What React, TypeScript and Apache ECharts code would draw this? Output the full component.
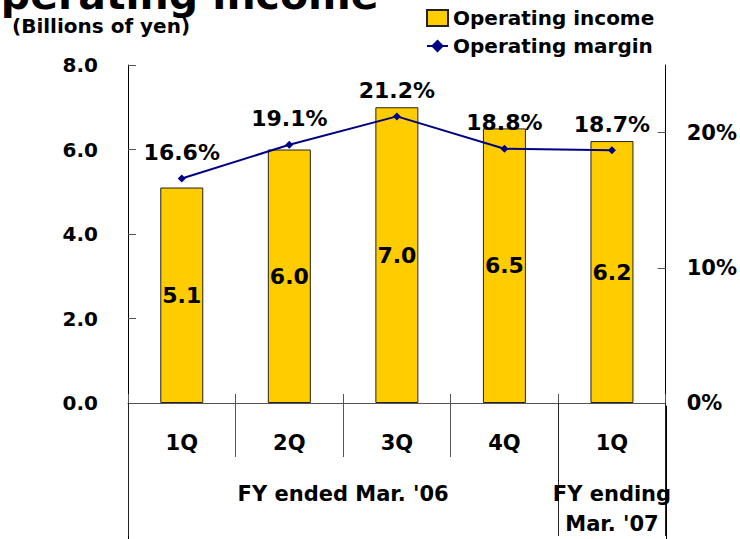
import React, { useEffect, useRef } from "react";
import * as echarts from "echarts";

const titleText = "Operating income";
const unitText = "(Billions of yen)";
const categories = ["1Q", "2Q", "3Q", "4Q", "1Q"];
const incomeValues = [5.1, 6.0, 7.0, 6.5, 6.2];
const marginValues = [16.6, 19.1, 21.2, 18.8, 18.7];
const leftTicks = [0, 2, 4, 6, 8];
const rightTicks = [0, 10, 20];
const fyLabels = ["FY ended Mar. '06", "FY ending\nMar. '07"];
const fyPositions = [2, 4.5];
const fyBoundaries = [0, 4, 5];
const quarterBoundaries = [1, 2, 3];

const FONT = "DejaVu Sans";
const SPAN_MAX = categories.length;

export default function App() {
  const ref = useRef<HTMLDivElement>(null);
  useEffect(() => {
    if (!ref.current) return;
    const chart = echarts.init(ref.current, null, { renderer: "svg" });
    const bold = { fontFamily: FONT, fontWeight: "bold" as const, color: "#000" };
    chart.setOption({
      animation: false,
      backgroundColor: "#fff",
      title: [
        {
          text: titleText,
          left: -34,
          top: -26,
          padding: 0,
          textStyle: { ...bold, fontSize: 41, lineHeight: 41 },
        },
        {
          text: unitText,
          left: 12,
          top: 16,
          padding: 0,
          textStyle: { ...bold, fontSize: 20, lineHeight: 20 },
        },
      ],
      legend: {
        orient: "vertical",
        left: 426,
        top: 8,
        padding: 0,
        itemWidth: 21,
        itemHeight: 16,
        itemGap: 8,
        textStyle: { ...bold, fontSize: 20, lineHeight: 20 },
        data: [
          { name: "Operating income", icon: "rect" },
          { name: "Operating margin" },
        ],
      },
      grid: [
        { left: 128, right: 74, top: 65, bottom: 133 },
        { left: 128, right: 74, top: 406, bottom: 0 },
      ],
      xAxis: [
        {
          type: "category",
          gridIndex: 0,
          position: "bottom",
          data: categories,
          axisLine: { show: true, onZero: false, lineStyle: { color: "#555", width: 1 } },
          axisTick: {
            show: true,
            inside: true,
            length: 9,
            alignWithLabel: false,
            interval: 0,
            lineStyle: { color: "#555" },
          },
          axisLabel: {
            ...bold,
            fontSize: 21,
            lineHeight: 22,
            margin: 29,
            interval: 0,
          },
          splitLine: { show: false },
        },
        {
          type: "value",
          gridIndex: 0,
          position: "bottom",
          min: 0,
          max: SPAN_MAX,
          axisLine: { show: false, onZero: false },
          axisTick: {
            show: true,
            length: 54,
            customValues: quarterBoundaries,
            lineStyle: { color: "#555" },
          },
          axisLabel: { show: false },
          splitLine: { show: false },
        },
        {
          type: "value",
          gridIndex: 0,
          position: "bottom",
          min: 0,
          max: SPAN_MAX,
          axisLine: { show: false, onZero: false },
          axisTick: {
            show: true,
            length: 133,
            customValues: fyBoundaries,
            lineStyle: { color: "#222" },
          },
          axisLabel: {
            ...bold,
            fontSize: 21,
            lineHeight: 30,
            margin: 76,
            align: "center",
            customValues: fyPositions,
            formatter: (v: number) => {
              const i = fyPositions.indexOf(v);
              return i >= 0 ? fyLabels[i] : "";
            },
          },
          splitLine: { show: false },
        },
        {
          type: "value",
          gridIndex: 1,
          min: 0,
          max: SPAN_MAX,
          show: false,
        },
      ],
      yAxis: [
        {
          type: "value",
          gridIndex: 0,
          position: "left",
          min: leftTicks[0],
          max: leftTicks[leftTicks.length - 1],
          interval: 2,
          axisLine: { show: true, onZero: false, lineStyle: { color: "#000", width: 1 } },
          axisTick: { show: true, inside: true, length: 8, lineStyle: { color: "#555" } },
          axisLabel: {
            ...bold,
            fontSize: 20,
            margin: 30,
            formatter: (v: number) => v.toFixed(1),
          },
          splitLine: { show: false },
        },
        {
          type: "value",
          gridIndex: 0,
          position: "right",
          min: 0,
          max: 25,
          axisLine: { show: true, onZero: false, lineStyle: { color: "#000", width: 1 } },
          axisTick: {
            show: true,
            inside: true,
            length: 8,
            customValues: rightTicks,
            lineStyle: { color: "#555" },
          },
          axisLabel: {
            ...bold,
            fontSize: 21,
            margin: 21,
            customValues: rightTicks,
            formatter: (v: number) => `${v}%`,
          },
          splitLine: { show: false },
        },
        {
          type: "value",
          gridIndex: 1,
          position: "left",
          min: 0,
          max: 1,
          axisLine: { show: true, onZero: false, lineStyle: { color: "#000", width: 1 } },
          axisTick: { show: false },
          axisLabel: { show: false },
          splitLine: { show: false },
        },
        {
          type: "value",
          gridIndex: 1,
          position: "right",
          min: 0,
          max: 1,
          axisLine: { show: true, onZero: false, lineStyle: { color: "#000", width: 1 } },
          axisTick: { show: false },
          axisLabel: { show: false },
          splitLine: { show: false },
        },
      ],
      series: [
        {
          name: "Operating income",
          type: "bar",
          xAxisIndex: 0,
          yAxisIndex: 0,
          data: incomeValues,
          barWidth: 43,
          itemStyle: { color: "#FFCC00", borderColor: "#222", borderWidth: 1 },
          label: {
            show: true,
            position: "inside",
            ...bold,
            fontSize: 22,
            formatter: (p: any) => Number(p.value).toFixed(1),
          },
          z: 2,
        },
        {
          name: "Operating margin",
          type: "line",
          xAxisIndex: 0,
          yAxisIndex: 1,
          data: marginValues,
          symbol: "diamond",
          symbolSize: 8,
          lineStyle: { color: "#000080", width: 2 },
          itemStyle: { color: "#000080" },
          label: {
            show: true,
            position: "top",
            distance: 11,
            ...bold,
            fontSize: 22,
            formatter: (p: any) => `${Number(p.value).toFixed(1)}%`,
          },
          z: 3,
        },
      ],
    });
    return () => chart.dispose();
  }, []);
  return <div ref={ref} style={{ width: 740, height: 539, position: "absolute", left: 0, top: 0 }} />;
}
